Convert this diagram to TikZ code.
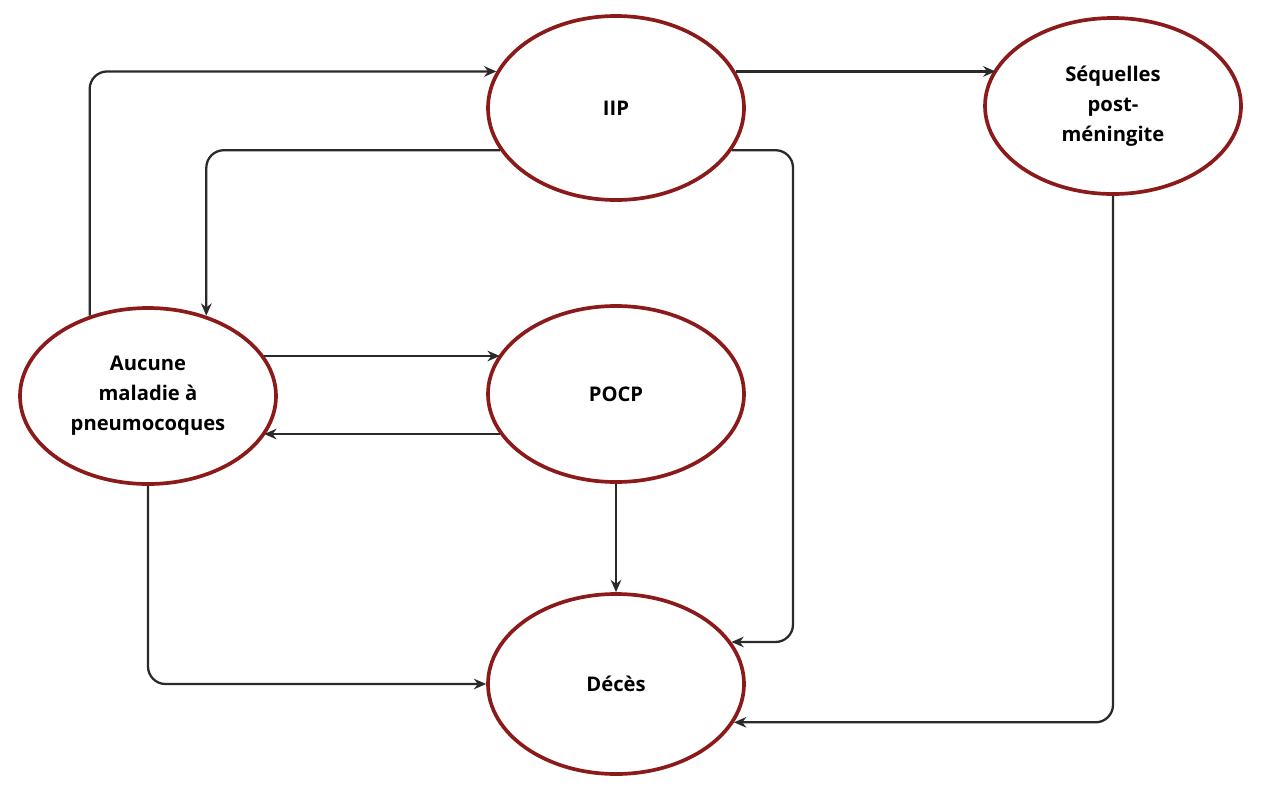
\documentclass[tikz,border=0pt]{standalone}
\usepackage{fontspec}
\setmainfont{Open Sans}
\usetikzlibrary{shapes.geometric,arrows.meta}
\definecolor{ered}{HTML}{8B1A1A}
\definecolor{lgray}{HTML}{2A2A2A}
\begin{document}
\begin{tikzpicture}[x=0.02cm,y=-0.02cm,
  st/.style={ellipse,draw=ered,line width=2.1pt,minimum width=256*0.02cm,minimum height=180*0.02cm,inner sep=0pt,align=center,font=\fontsize{11.5}{17}\selectfont\bfseries},
  arr/.style={draw=lgray,line width=1.3pt,-{Stealth[length=7pt,width=6pt]},rounded corners=0.35cm}]
\useasboundingbox (0,0) rectangle (1264,788);
\node[st,minimum height=184*0.02cm] (iip) at (616,108) {IIP};
\node[st,minimum height=176*0.02cm] (seq) at (1113,106) {Séquelles\\post-\\méningite};
\node[st,minimum height=176*0.02cm] (auc) at (148,396) {Aucune\\maladie à\\pneumocoques};
\node[st,minimum height=176*0.02cm] (pocp) at (616,394) {POCP};
\node[st] (dec) at (616,684) {Décès};
\coordinate (r4) at (793,0);
\draw[arr] (auc.126) |- (iip.163);
\draw[arr] (iip.200) -| (auc.54);
\draw[arr] (iip.17) -- (iip.17 -| seq.162);
\draw[arr] (iip.340) -| (r4 |- dec.20) -- (dec.20);
\draw[arr] (auc.19) -- (auc.19 -| pocp.161);
\draw[arr] (pocp.199) -- (pocp.199 -| auc.341);
\draw[arr] (pocp.south) -- (dec.north);
\draw[arr] (auc.south) |- (dec.west);
\draw[arr] (seq.south) |- (dec.342);
\end{tikzpicture}
\end{document}
